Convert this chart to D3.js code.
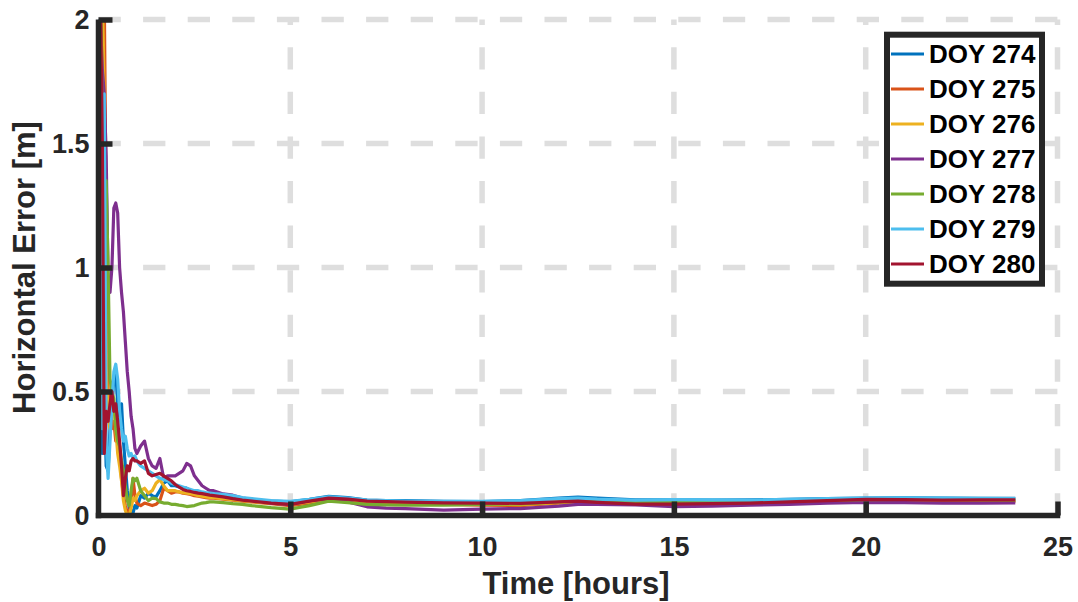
<!DOCTYPE html>
<html>
<head>
<meta charset="utf-8">
<script src="https://cdn.jsdelivr.net/npm/d3@7"></script>
<style>
  html, body { margin: 0; padding: 0; background: #fff; }
  svg { display: block; font-family: "Liberation Sans", Arial, sans-serif; font-weight: bold; }
</style>
</head>
<body>
<div id="chart"></div>
<script>
// Data
const hours = [0, 0.05, 0.1, 0.15, 0.2, 0.25, 0.3, 0.35, 0.4, 0.45, 0.5, 0.55, 0.6, 0.65, 0.7, 0.75, 0.8, 0.85, 0.9, 0.95, 1.0,
    1.1, 1.2, 1.3, 1.4, 1.5, 1.6, 1.7, 1.8, 1.9, 2.0, 2.1, 2.2, 2.3, 2.4, 2.5, 2.6, 2.7, 2.8, 2.9, 3.0,
    3.25, 3.5, 3.75, 4.0, 4.5, 5.0, 5.5, 6.0, 6.5, 7.0, 7.5, 8, 9, 10, 11, 12, 12.5, 13, 14, 15, 16, 17, 18, 19, 20, 21, 22, 23, 23.9]

const doy274 = [2.5, 0.9, 0.25, 0.5, 0.2, 0.18, 0.35, 0.45, 0.55, 0.58, 0.45, 0.4, 0.45, 0.3, 0.2, 0.1, 0.03, 0.02, 0.01, 0.04, 0.03,
    0.08, 0.07, 0.09, 0.08, 0.075, 0.1, 0.13, 0.14, 0.12, 0.12, 0.115, 0.11, 0.11, 0.10, 0.095, 0.09, 0.088, 0.085, 0.085, 0.082,
    0.08, 0.075, 0.068, 0.062, 0.058, 0.055, 0.065, 0.077, 0.072, 0.062, 0.06, 0.06, 0.057, 0.056, 0.06, 0.07, 0.074, 0.07, 0.063, 0.063, 0.062, 0.063, 0.065, 0.068, 0.07, 0.071, 0.07, 0.069, 0.069]
const doy275 = [2.5, 2.5, 2.3, 2.1, 1.2, 0.5, 0.45, 0.35, 0.38, 0.3, 0.3, 0.25, 0.15, 0.08, 0.04, 0.01, 0.005, 0.06, 0.15, 0.08, 0.05,
    0.04, 0.05, 0.045, 0.04, 0.045, 0.06, 0.11, 0.1, 0.09, 0.095, 0.095, 0.09, 0.088, 0.085, 0.08, 0.078, 0.075, 0.072, 0.07, 0.07,
    0.066, 0.062, 0.058, 0.055, 0.048, 0.04, 0.05, 0.065, 0.06, 0.052, 0.05, 0.048, 0.045, 0.042, 0.04, 0.05, 0.055, 0.052, 0.048, 0.045, 0.046, 0.048, 0.052, 0.056, 0.06, 0.06, 0.058, 0.057, 0.057]
const doy276 = [2.5, 2.2, 2.1, 1.7, 0.6, 0.4, 0.35, 0.5, 0.45, 0.35, 0.25, 0.2, 0.14, 0.06, 0.02, 0.0, 0.0, 0.03, 0.07, 0.06, 0.08,
    0.1, 0.11, 0.09, 0.1, 0.13, 0.145, 0.12, 0.1, 0.1, 0.1, 0.095, 0.092, 0.09, 0.088, 0.085, 0.08, 0.078, 0.075, 0.073, 0.072,
    0.068, 0.064, 0.06, 0.056, 0.05, 0.045, 0.055, 0.068, 0.062, 0.055, 0.052, 0.05, 0.047, 0.045, 0.044, 0.052, 0.056, 0.054, 0.05, 0.047, 0.048, 0.05, 0.054, 0.058, 0.062, 0.061, 0.06, 0.059, 0.059]
const doy277 = [2.3, 2.0, 1.8, 1.7, 1.45, 0.95, 0.9, 1.0, 1.24, 1.26, 1.22, 1.0, 0.9, 0.82, 0.7, 0.58, 0.5, 0.4, 0.35, 0.27, 0.25,
    0.28, 0.3, 0.23, 0.2, 0.19, 0.23, 0.15, 0.16, 0.16, 0.16, 0.17, 0.18, 0.21, 0.2, 0.16, 0.14, 0.12, 0.11, 0.1, 0.1,
    0.087, 0.082, 0.07, 0.065, 0.05, 0.045, 0.06, 0.068, 0.055, 0.035, 0.03, 0.028, 0.022, 0.026, 0.028, 0.038, 0.045, 0.045, 0.043, 0.036, 0.038, 0.042, 0.045, 0.05, 0.053, 0.052, 0.05, 0.05, 0.051]
const doy278 = [2.5, 2.2, 1.5, 0.8, 1.35, 1.0, 0.55, 0.5, 0.47, 0.35, 0.3, 0.28, 0.22, 0.18, 0.12, 0.06, 0.04, 0.1, 0.15, 0.14, 0.15,
    0.1, 0.08, 0.06, 0.07, 0.068, 0.055, 0.05, 0.05, 0.045, 0.045, 0.042, 0.04, 0.036, 0.038, 0.04, 0.045, 0.05, 0.052, 0.055, 0.055,
    0.052, 0.048, 0.045, 0.04, 0.032, 0.026, 0.04, 0.058, 0.052, 0.045, 0.043, 0.042, 0.042, 0.045, 0.047, 0.055, 0.058, 0.056, 0.053, 0.055, 0.054, 0.055, 0.058, 0.062, 0.064, 0.065, 0.064, 0.063, 0.062]
const doy279 = [2.5, 1.0, 0.35, 1.7, 0.3, 0.15, 0.3, 0.45, 0.58, 0.61, 0.55, 0.42, 0.35, 0.3, 0.32, 0.27, 0.24, 0.25, 0.23, 0.24, 0.22,
    0.2, 0.19, 0.18, 0.17, 0.16, 0.15, 0.145, 0.14, 0.13, 0.125, 0.12, 0.115, 0.11, 0.105, 0.1, 0.1, 0.095, 0.092, 0.09, 0.088,
    0.085, 0.08, 0.072, 0.068, 0.06, 0.057, 0.065, 0.075, 0.07, 0.062, 0.06, 0.058, 0.057, 0.057, 0.06, 0.068, 0.07, 0.066, 0.062, 0.064, 0.063, 0.062, 0.065, 0.068, 0.07, 0.071, 0.07, 0.069, 0.068]
const doy280 = [2.5, 2.1, 1.5, 0.25, 0.42, 0.38, 0.45, 0.5, 0.42, 0.45, 0.38, 0.3, 0.2, 0.08, 0.15, 0.2, 0.18, 0.22, 0.23, 0.22, 0.22,
    0.21, 0.22, 0.17, 0.16, 0.165, 0.17, 0.16, 0.15, 0.14, 0.125, 0.115, 0.105, 0.1, 0.097, 0.093, 0.09, 0.088, 0.085, 0.082, 0.08,
    0.075, 0.068, 0.062, 0.058, 0.05, 0.045, 0.058, 0.07, 0.066, 0.058, 0.056, 0.054, 0.051, 0.05, 0.049, 0.055, 0.058, 0.053, 0.046, 0.046, 0.048, 0.05, 0.055, 0.06, 0.065, 0.064, 0.062, 0.063, 0.063]

const seriesNames = ['DOY 274', 'DOY 275', 'DOY 276', 'DOY 277', 'DOY 278', 'DOY 279', 'DOY 280']
const seriesValues = [doy274, doy275, doy276, doy277, doy278, doy279, doy280]
const seriesColors = ['#0072BD', '#D95319', '#EDB120', '#7E2F8E', '#77AC30', '#4DBEEE', '#A2142F']
const xTicks = [0, 5, 10, 15, 20, 25]
const yTicks = [0, 0.5, 1, 1.5, 2]

// Presentation
const width = 1078, height = 602
const margin = { top: 19.5, right: 20.5, bottom: 86.5, left: 98.5 }
const innerW = width - margin.left - margin.right
const innerH = height - margin.top - margin.bottom
const ink = '#262626'

const svg = d3.select('#chart').append('svg')
    .attr('width', width)
    .attr('height', height)

// Scale
const x = d3.scaleLinear().domain([0, 25]).range([margin.left, margin.left + innerW])
const y = d3.scaleLinear().domain([0, 2]).range([margin.top + innerH, margin.top])

// Grid
const grid = svg.append('g').attr('class', 'grid')
    .style('stroke', '#dedede')
    .style('stroke-width', 5.5)
    .style('stroke-dasharray', '22.3 22.3')
grid.selectAll('line.gx').data(xTicks.slice(1)).enter()
    .append('line').attr('class', 'gx')
    .attr('x1', d => x(d)).attr('x2', d => x(d))
    .attr('y1', y(0)).attr('y2', y(2))
grid.selectAll('line.gy').data(yTicks.slice(1)).enter()
    .append('line').attr('class', 'gy')
    .attr('y1', d => y(d)).attr('y2', d => y(d))
    .attr('x1', x(0)).attr('x2', x(25))

// Trends
svg.append('clipPath').attr('id', 'plot-clip')
    .append('rect')
    .attr('x', x(0)).attr('y', y(2))
    .attr('width', innerW).attr('height', innerH)

const line = d3.line()
    .x((_, i) => x(hours[i]))
    .y(v => y(v))
    .curve(d3.curveLinear)

svg.append('g').attr('clip-path', 'url(#plot-clip)')
    .selectAll('path.trend')
    .data(seriesValues)
    .enter()
    .append('path')
    .attr('class', 'trend')
    .attr('d', line)
    .style('fill', 'none')
    .style('stroke', (_, i) => seriesColors[i])
    .style('stroke-width', 3.2)
    .style('stroke-linejoin', 'round')

// Axis
const xAxis = svg.append('g')
    .attr('transform', `translate(0, ${y(0)})`)
    .call(d3.axisBottom(x).tickValues(xTicks).tickSizeInner(-14).tickSizeOuter(0).tickPadding(0))
const yAxis = svg.append('g')
    .attr('transform', `translate(${x(0)}, 0)`)
    .call(d3.axisLeft(y).tickValues(yTicks).tickFormat(d3.format('')).tickSizeInner(-14).tickSizeOuter(0).tickPadding(0))

;[xAxis, yAxis].forEach(axis => {
    axis.select('.domain').style('stroke', ink).style('stroke-width', 5.5)
    axis.selectAll('.tick line').style('stroke', ink).style('stroke-width', 5.5)
    axis.selectAll('.tick text')
        .style('fill', ink)
        .style('font-size', '27px')
        .style('font-weight', 'bold')
        .style('font-family', '"Liberation Sans", Arial, sans-serif')
})
xAxis.select('.domain').attr('d', `M${x(0) - 2.75},0H${x(25) + 2.75}`)
yAxis.select('.domain').attr('d', `M0,${y(0) + 2.75}V${y(2)}`)
xAxis.selectAll('.tick text').attr('y', 40).attr('dy', 0)
xAxis.selectAll('.tick').filter(d => d === 0).select('line').remove()
yAxis.selectAll('.tick text').attr('x', -9).attr('dy', '0.35em')
yAxis.selectAll('.tick').filter(d => d === 0).select('line').remove()

svg.append('text')
    .attr('x', x(12.5) - 2)
    .attr('y', 594)
    .attr('text-anchor', 'middle')
    .style('font-size', '31px')
    .style('fill', ink)
    .text('Time [hours]')

svg.append('text')
    .attr('transform', `translate(35, ${y(1)}) rotate(-90)`)
    .attr('text-anchor', 'middle')
    .style('font-size', '31px')
    .style('fill', ink)
    .text('Horizontal Error [m]')

// Legend
const legend = svg.append('g').attr('class', 'legend')
legend.append('rect')
    .attr('x', 887).attr('y', 34.7)
    .attr('width', 155).attr('height', 249)
    .style('fill', '#fff')
    .style('stroke', ink)
    .style('stroke-width', 6)

const items = legend.selectAll('g.item')
    .data(seriesNames)
    .enter()
    .append('g')
    .attr('class', 'item')
    .attr('transform', (_, i) => `translate(0, ${54 + i * 35})`)
items.append('line')
    .attr('x1', 891).attr('x2', 924)
    .style('stroke', (_, i) => seriesColors[i])
    .style('stroke-width', 3)
items.append('text')
    .attr('x', 929)
    .attr('y', 9)
    .style('font-size', '26px')
    .style('fill', '#000')
    .text(d => d)
</script>
</body>
</html>
